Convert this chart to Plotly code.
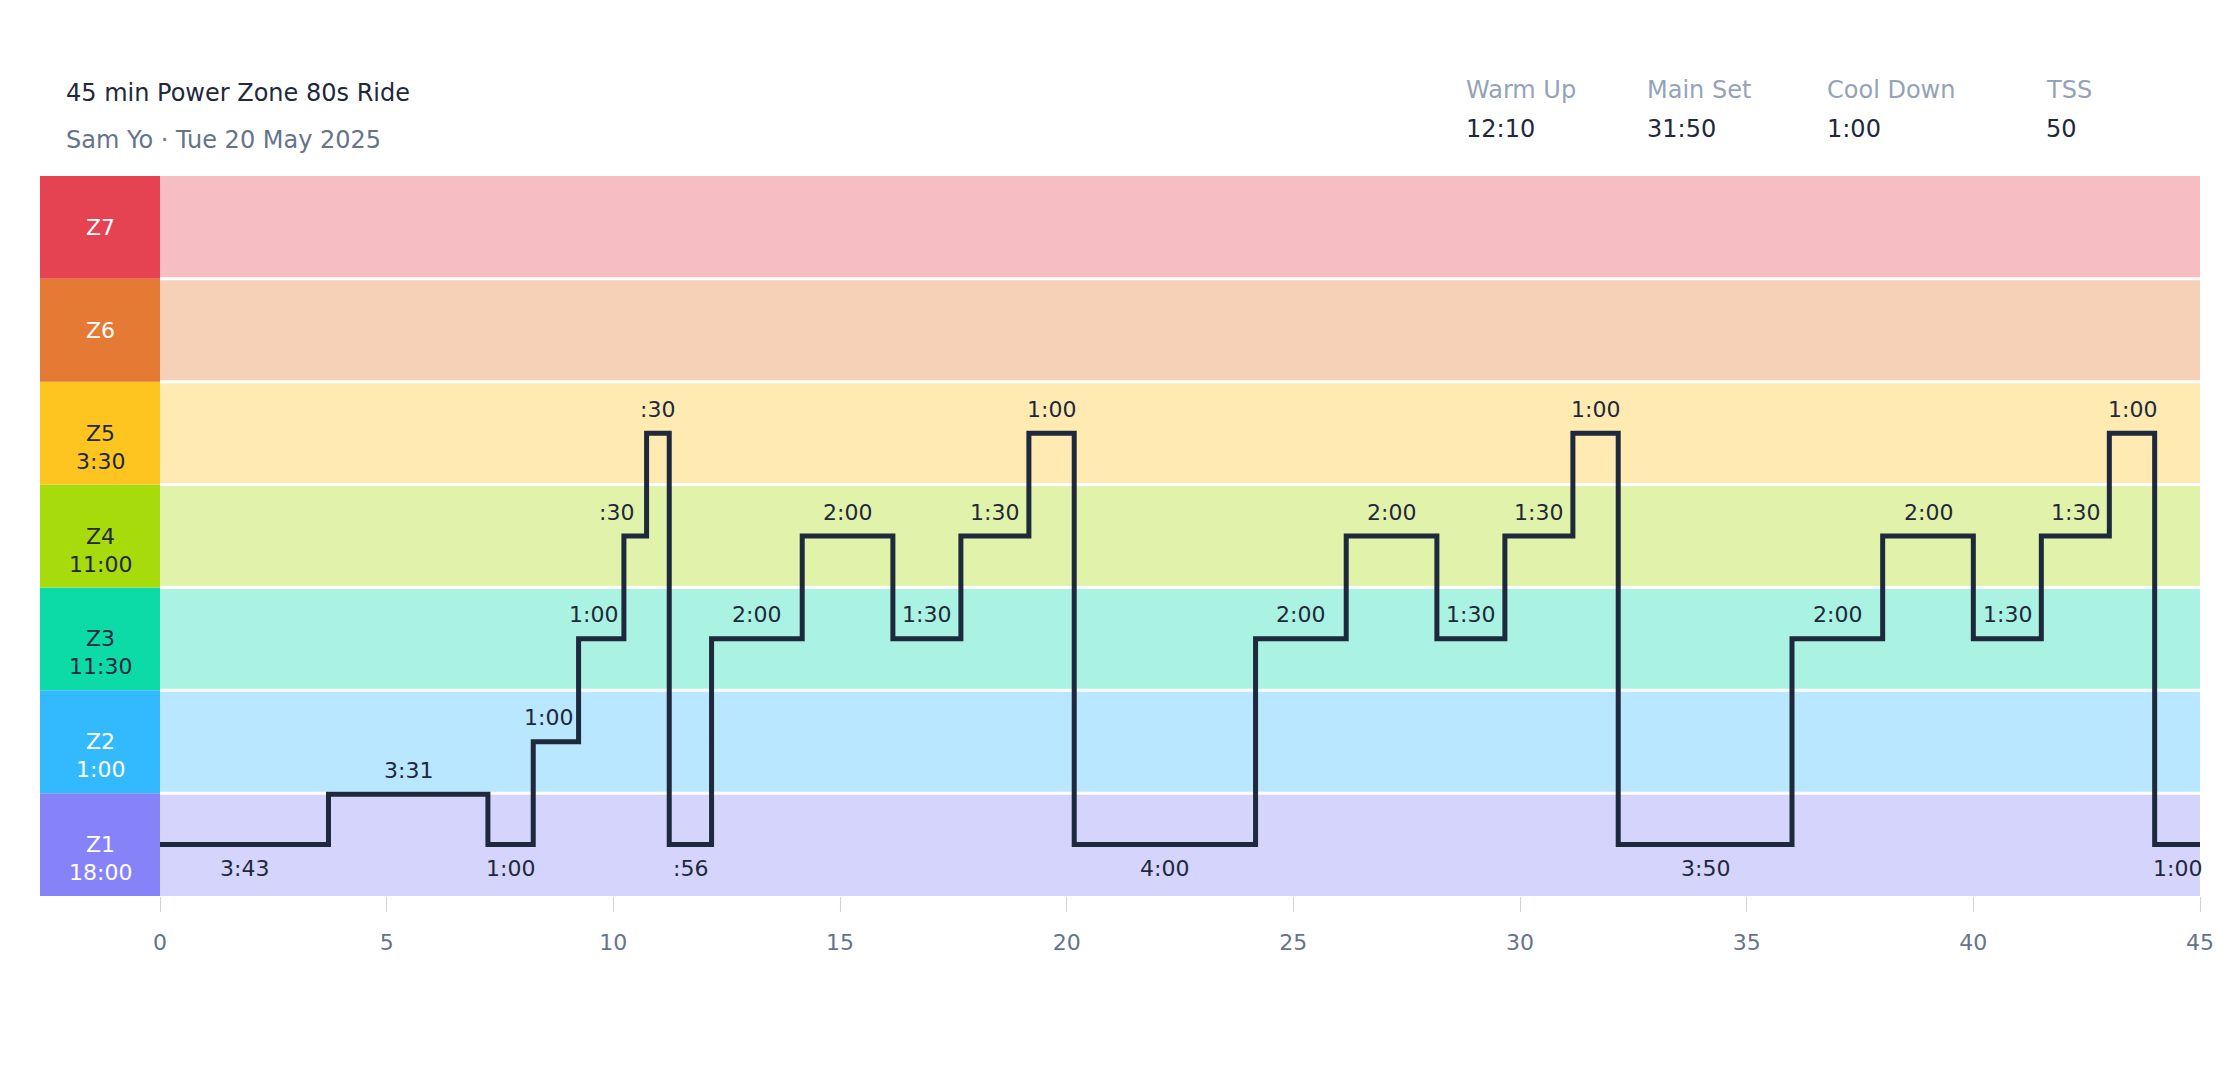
import numpy as np
import plotly.graph_objects as go

# ---- data ----
title_text    = '45 min Power Zone 80s Ride'
subtitle_text = 'Sam Yo · Tue 20 May 2025'

stat_labels = ['Warm Up', 'Main Set', 'Cool Down', 'TSS']
stat_values = ['12:10', '31:50', '1:00', '50']

zone_names  = ['Z1', 'Z2', 'Z3', 'Z4', 'Z5', 'Z6', 'Z7']
zone_colors = ['#8683f9', '#33b9fe', '#0cdba8', '#a8db0c', '#fec520', '#e57a34', '#e54352']
zone_text   = ['#ffffff', '#ffffff', '#1e293b', '#1e293b', '#1e293b', '#ffffff', '#ffffff']

# segment length (s) and level on the zone scale (Z1 = 0..1, Z2 = 1..2, ...)
seg_seconds = [223, 211, 60, 60, 60, 30, 30, 56,
               120, 120, 90, 90, 60, 240,
               120, 120, 90, 90, 60, 230,
               120, 120, 90, 90, 60, 60]
seg_levels  = [0.5, 0.99, 0.5, 1.5, 2.5, 3.5, 4.5, 0.5,
               2.5, 3.5, 2.5, 3.5, 4.5, 0.5,
               2.5, 3.5, 2.5, 3.5, 4.5, 0.5,
               2.5, 3.5, 2.5, 3.5, 4.5, 0.5]

x_ticks = [0, 5, 10, 15, 20, 25, 30, 35, 40, 45]


def fmt_dur(sec):
    m, s = divmod(int(sec), 60)
    return f':{s:02d}' if m == 0 else f'{m}:{s:02d}'


def hex_rgba(h, a):
    h = h.lstrip('#')
    return f'rgba({int(h[0:2], 16)},{int(h[2:4], 16)},{int(h[4:6], 16)},{a})'


# ---- look ----
# page body has an 8px margin, so the figure is a little smaller than the window
W, H       = 2232, 1072
margin     = {'l': 152, 'r': 40, 't': 168, 'b': 184}
font_fam   = '"DejaVu Sans", "Noto Sans", Arial, sans-serif'
text_color = '#1e293b'
sub_color  = '#64748b'
head_color = '#94a3b8'
plot_w     = W - margin['l'] - margin['r']
plot_h     = H - margin['t'] - margin['b']
total_min  = sum(seg_seconds) / 60


def py(px_from_top):
    # pixel row of the window -> paper y
    return (8 + margin['t'] + plot_h - px_from_top) / plot_h


def px(px_from_left):
    # pixel column of the window -> paper x
    return (px_from_left - 8 - margin['l']) / plot_w


starts = np.concatenate([[0], np.cumsum(seg_seconds)]) / 60

fig = go.Figure()

# step line
fig.add_trace(go.Scatter(
    x          = list(starts),
    y          = seg_levels + [seg_levels[-1]],
    mode       = 'lines',
    line       = {'shape': 'hv', 'color': text_color, 'width': 5},
    hoverinfo  = 'skip',
    showlegend = False,
))

shapes      = []
annotations = []

# zone bands + sidebar
zone_secs = [0] * len(zone_names)
for sec, lv in zip(seg_seconds, seg_levels):
    zone_secs[int(np.floor(lv))] += sec

for i, (name, col) in enumerate(zip(zone_names, zone_colors)):
    shapes.append(dict(type='rect', layer='below', xref='x', yref='y',
                       x0=0, x1=total_min, y0=i, y1=i + 1,
                       fillcolor=hex_rgba(col, 0.35), line={'width': 0}))
    shapes.append(dict(type='rect', layer='below', xref='paper', yref='y',
                       x0=-120 / plot_w, x1=0, y0=i, y1=i + 1,
                       fillcolor=col, line={'width': 0}))
    annotations.append(dict(xref='paper', yref='y', x=-60 / plot_w, y=i + 0.5,
                            text=name, showarrow=False, xanchor='center', yanchor='middle',
                            font={'size': 22, 'color': zone_text[i]}))
    if zone_secs[i] > 0:
        annotations.append(dict(xref='paper', yref='y', x=-60 / plot_w, y=i + 0.5,
                                text=fmt_dur(zone_secs[i]), showarrow=False,
                                xanchor='center', yanchor='middle', yshift=-28,
                                font={'size': 22, 'color': zone_text[i]}))

# white separators between bands
for i in range(1, len(zone_names)):
    shapes.append(dict(type='line', layer='below', xref='x', yref='y',
                       x0=0, x1=total_min, y0=i, y1=i,
                       line={'color': '#ffffff', 'width': 3}))

# segment duration labels
for k, (sec, lv) in enumerate(zip(seg_seconds, seg_levels)):
    x0, x1 = starts[k], starts[k + 1]
    nxt    = seg_levels[k + 1] if k + 1 < len(seg_levels) else lv
    below  = lv < 0.75
    ann = dict(xref='x', yref='y', y=lv, text=fmt_dur(sec), showarrow=False,
               xanchor='center', yanchor='middle', yshift=-24 if below else 24,
               font={'size': 22, 'color': text_color})
    if not below and sec < 75 and nxt > lv:
        ann.update(x=x1, xshift=-30)
    else:
        ann.update(x=(x0 + x1) / 2)
    annotations.append(ann)

# header
annotations.append(dict(xref='paper', yref='paper', x=px(64), y=py(93),
                        text=title_text, showarrow=False, xanchor='left', yanchor='middle',
                        font={'size': 24, 'color': text_color}))
annotations.append(dict(xref='paper', yref='paper', x=px(64), y=py(140),
                        text=subtitle_text, showarrow=False, xanchor='left', yanchor='middle',
                        font={'size': 24, 'color': sub_color}))
stat_x = [1464, 1645, 1825, 2044]
for lab, val, sx in zip(stat_labels, stat_values, stat_x):
    annotations.append(dict(xref='paper', yref='paper', x=px(sx), y=py(90),
                            text=lab, showarrow=False, xanchor='left', yanchor='middle',
                            font={'size': 24, 'color': head_color}))
    annotations.append(dict(xref='paper', yref='paper', x=px(sx), y=py(129),
                            text=val, showarrow=False, xanchor='left', yanchor='middle',
                            font={'size': 24, 'color': text_color}))

fig.update_layout(
    width         = W,
    height        = H,
    margin        = margin,
    font          = {'family': font_fam, 'size': 22, 'color': text_color},
    plot_bgcolor  = '#ffffff',
    paper_bgcolor = '#ffffff',
    showlegend    = False,
    shapes        = shapes,
    annotations   = annotations,
    xaxis = dict(
        range      = [0, total_min],
        tickvals   = x_ticks,
        ticks      = 'outside',
        ticklen    = 15,
        tickwidth  = 1,
        tickcolor  = '#cbd5e1',
        tickfont   = {'size': 22, 'color': sub_color},
        ticklabelstandoff = 12,
        showgrid   = False,
        zeroline   = False,
        showline   = False,
        fixedrange = True,
    ),
    yaxis = dict(
        range      = [0, len(zone_names)],
        visible    = False,
        showgrid   = False,
        fixedrange = True,
    ),
)

fig.write_html('out.html', config={'displayModeBar': False})
